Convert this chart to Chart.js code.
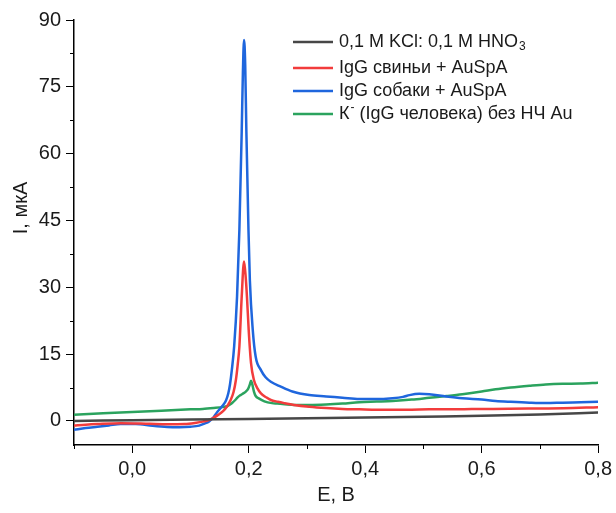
<!DOCTYPE html>
<html>
<head>
<meta charset="utf-8">
<script src="https://cdn.jsdelivr.net/npm/chart.js@4.4.1/dist/chart.umd.min.js"></script>
<style>
  html, body { margin: 0; padding: 0; background: #fff; }
</style>
</head>
<body>
<canvas id="myChart" width="616" height="513"></canvas>
<script>
// series (E in V, I in uA)
const legendLabels = ['0,1 M KCl: 0,1 M HNO_3', 'IgG свиньи + AuSpA', 'IgG собаки + AuSpA', 'К^- (IgG человека) без НЧ Au'];
const lineColors = ['#474747', '#f23c3c', '#1f66dd', '#2ba35e'];

const eBlack = [-0.1, 0.0, 0.1, 0.2, 0.3, 0.4, 0.5, 0.6, 0.7, 0.8];
const iBlack = [0.0, 0.15, 0.3, 0.45, 0.6, 0.75, 0.95, 1.15, 1.45, 1.9];

const eRed = [-0.1, -0.08, -0.06, -0.02, 0.03, 0.06, 0.09, 0.11, 0.121, 0.13, 0.138, 0.147, 0.156, 0.163, 0.169, 0.174, 0.178, 0.181, 0.184, 0.188, 0.192, 0.195, 0.197, 0.2, 0.204, 0.209, 0.215, 0.221, 0.23, 0.238, 0.25, 0.261, 0.278, 0.304, 0.333, 0.361, 0.39, 0.42, 0.47, 0.51, 0.57, 0.62, 0.68, 0.74, 0.8];
const iRed = [-1.05, -0.85, -0.7, -0.5, -0.65, -0.75, -0.7, -0.4, -0.15, 0.15, 0.6, 1.3, 2.2, 3.3, 4.7, 6.5, 9.2, 12.5, 16.7, 27.9, 35.8, 32, 27.9, 20.4, 13.0, 9.2, 7.3, 6.2, 5.3, 4.7, 4.3, 4.0, 3.6, 3.2, 2.9, 2.7, 2.6, 2.5, 2.5, 2.6, 2.65, 2.7, 2.8, 2.85, 3.1];

const eBlue = [-0.1, -0.08, -0.06, -0.04, -0.02, 0.006, 0.035, 0.06, 0.081, 0.1, 0.115, 0.124, 0.132, 0.14, 0.146, 0.155, 0.161, 0.165, 0.168, 0.171, 0.175, 0.18, 0.184, 0.188, 0.19, 0.192, 0.194, 0.196, 0.1996, 0.202, 0.207, 0.212, 0.221, 0.229, 0.238, 0.255, 0.275, 0.304, 0.333, 0.361, 0.39, 0.418, 0.447, 0.465, 0.476, 0.493, 0.51, 0.539, 0.567, 0.6, 0.624, 0.65, 0.682, 0.71, 0.739, 0.77, 0.8];
const iBlue = [-2.0, -1.6, -1.3, -1.0, -0.7, -0.7, -1.1, -1.35, -1.4, -1.3, -1.05, -0.6, -0.1, 0.9, 2.0, 3.4, 4.6, 6.2, 8.3, 11.4, 16.7, 27.9, 42.9, 65, 78, 85.5, 80, 65, 42.9, 31.6, 20.4, 14.4, 11.4, 9.8, 8.8, 7.7, 6.6, 5.8, 5.5, 5.2, 4.9, 4.9, 5.1, 5.4, 5.8, 6.1, 6.0, 5.5, 5.1, 4.8, 4.5, 4.3, 4.1, 4.0, 4.1, 4.2, 4.3];

const eGreen = [-0.1, -0.05, 0.0, 0.05, 0.1, 0.121, 0.14, 0.155, 0.163, 0.168, 0.172, 0.177, 0.181, 0.186, 0.191, 0.195, 0.199, 0.202, 0.204, 0.206, 0.209, 0.212, 0.218, 0.227, 0.24, 0.249, 0.262, 0.278, 0.304, 0.333, 0.361, 0.39, 0.42, 0.447, 0.48, 0.51, 0.54, 0.567, 0.6, 0.624, 0.65, 0.682, 0.71, 0.739, 0.77, 0.8];
const iGreen = [1.4, 1.7, 2.0, 2.3, 2.6, 2.7, 2.9, 3.1, 3.3, 3.7, 4.1, 4.7, 5.3, 5.8, 6.2, 6.6, 7.2, 8.2, 9.0, 8.3, 6.6, 5.6, 5.0, 4.4, 4.0, 3.9, 3.75, 3.6, 3.6, 3.7, 3.9, 4.2, 4.35, 4.5, 4.8, 5.2, 5.6, 6.0, 6.6, 7.1, 7.5, 7.9, 8.2, 8.35, 8.4, 8.6];

const xTitle = 'E, B';
const yTitle = 'I, мкА';

const toPoints = (xs, ys) => xs.map((x, i) => ({x: x, y: ys[i]}));
const series = [[eBlack, iBlack], [eRed, iRed], [eBlue, iBlue], [eGreen, iGreen]];

const FONT = '"Liberation Sans", Arial, sans-serif';
Chart.defaults.font.family = FONT;
Chart.defaults.color = '#1a1a1a';

const isMajorX = v => Math.round(v * 10) % 2 === 0;
const isMajorY = v => v >= 0 && Math.abs(v % 15) < 1e-6;

// short minor ticks, drawn on the library's scales
const minorTicks = {
  id: 'minorTicks',
  afterDraw(chart) {
    const c = chart.ctx, ca = chart.chartArea;
    const xs = chart.scales.x, ys = chart.scales.y;
    c.save();
    c.strokeStyle = '#000';
    c.lineWidth = 1;
    c.beginPath();
    xs.ticks.forEach(t => {
      if (!isMajorX(t.value)) {
        const px = Math.round(xs.getPixelForValue(t.value)) + 0.5;
        c.moveTo(px, ca.bottom); c.lineTo(px, ca.bottom + 4);
      }
    });
    ys.ticks.forEach(t => {
      if (t.value > 0 && !isMajorY(t.value)) {
        const py = Math.round(ys.getPixelForValue(t.value)) + 0.5;
        c.moveTo(ca.left, py); c.lineTo(ca.left - 4, py);
      }
    });
    c.stroke();
    // y axis title, sits a little above the middle as in the original
    c.fillStyle = '#1a1a1a';
    c.font = '20px ' + FONT;
    c.textAlign = 'center';
    c.textBaseline = 'middle';
    c.translate(21, 208);
    c.rotate(-Math.PI / 2);
    c.fillText(yTitle, 0, 0);
    c.restore();
  }
};

// legend box in the upper right, like the original
const legendBox = {
  id: 'legendBox',
  afterDraw(chart) {
    const c = chart.ctx;
    const rows = [42, 68, 91, 114];
    c.save();
    c.textBaseline = 'middle';
    legendLabels.forEach((lab, i) => {
      const y = rows[i];
      c.strokeStyle = lineColors[i];
      c.lineWidth = 2.5;
      c.beginPath(); c.moveTo(293, y); c.lineTo(333, y); c.stroke();
      let x = 339;
      c.fillStyle = '#1a1a1a';
      const parts = lab.split(/([_^]\S)/).filter(p => p.length);
      parts.forEach(p => {
        if (p[0] === '_' || p[0] === '^') {
          c.font = '12px ' + FONT;
          const dy = p[0] === '_' ? 5 : -6;
          c.fillText(p.slice(1), x + 1, y + dy);
          x += c.measureText(p.slice(1)).width + 1;
        } else {
          c.font = '18px ' + FONT;
          c.fillText(p, x, y);
          x += c.measureText(p).width;
        }
      });
    });
    c.restore();
  }
};

const myChart = new Chart('myChart', {
  type: 'line',
  data: {
    datasets: series.map((s, i) => ({
      label: legendLabels[i],
      data: toPoints(s[0], s[1]),
      borderColor: lineColors[i],
      backgroundColor: lineColors[i],
      borderWidth: 2.5,
      pointRadius: 0,
      cubicInterpolationMode: 'monotone',
      fill: false
    }))
  },
  options: {
    responsive: false,
    animation: false,
    layout: { padding: { top: 20, right: 16, left: 0, bottom: 0 } },
    plugins: { legend: { display: false }, tooltip: { enabled: false } },
    scales: {
      x: {
        type: 'linear',
        min: -0.1,
        max: 0.8,
        afterFit: s => { s.height = 68; },
        grid: {
          drawOnChartArea: false,
          tickLength: 8,
          tickColor: ctx => isMajorX(ctx.tick.value) ? '#000' : 'rgba(0,0,0,0)'
        },
        border: { display: true, color: '#000', width: 1.5 },
        ticks: {
          stepSize: 0.1,
          autoSkip: false,
          maxRotation: 0,
          padding: 4,
          font: { size: 20 },
          callback: v => isMajorX(v) ? (Math.round(v * 10) / 10).toFixed(1).replace('.', ',') : ''
        },
        title: { display: true, text: xTitle, font: { size: 20 }, padding: { top: 0, bottom: 6 } }
      },
      y: {
        type: 'linear',
        min: -5.4,
        max: 90,
        afterFit: s => { s.width = 74; },
        grid: {
          drawOnChartArea: false,
          tickLength: 8,
          tickColor: ctx => isMajorY(ctx.tick.value) ? '#000' : 'rgba(0,0,0,0)'
        },
        border: { display: true, color: '#000', width: 1.5 },
        ticks: {
          stepSize: 7.5,
          autoSkip: false,
          padding: 5,
          font: { size: 20 },
          callback: v => isMajorY(v) ? String(v) : ''
        },
        title: { display: false }
      }
    }
  },
  plugins: [minorTicks, legendBox]
});
</script>
</body>
</html>
